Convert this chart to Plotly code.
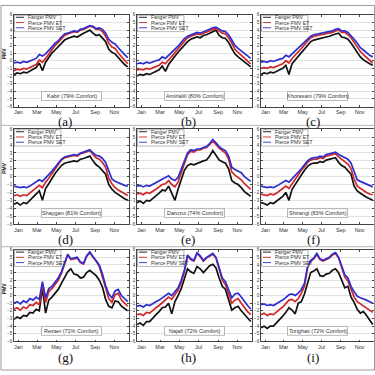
import plotly.graph_objects as go

# ---------------- data ----------------
DAYS = list(range(1, 366, 10))  # sample days of the year
MONTH_TICKS = [15, 74, 135, 196, 258, 319]
MONTH_LABELS = ["Jan", "Mar", "May", "Jul", "Sep", "Nov"]
Y_TICKS = list(range(-6, 7))
SERIES_NAMES = ["Fanger PMV", "Pierce PMV ET", "Pierce PMV SET"]
STATIONS = ["Kabir (79% Comfort)", "Amirlalili (80% Comfort)", "Khorasani (79% Comfort)",
            "Shaygan (81% Comfort)", "Darozui (74% Comfort)", "Shirangi (83% Comfort)",
            "Rezaei (71% Comfort)", "Najafi (72% Comfort)", "Torighati (72% Comfort)"]
PANEL_LABELS = ["(a)", "(b)", "(c)", "(d)", "(e)", "(f)", "(g)", "(h)", "(i)"]

FAN_A = [-1.8,-1.6,-1.7,-1.5,-1.6,-1.4,-1.1,-0.9,-0.3,-1.3,-0.2,0.4,1.0,1.4,1.8,2.3,2.7,2.9,3.0,3.2,3.1,3.4,3.6,3.8,4.0,3.6,3.3,3.4,3.0,2.5,1.5,1.1,0.9,0.4,-0.1,-0.5,-0.8]
ET_A = [-1.3,-1.1,-1.2,-1.0,-1.1,-0.9,-0.6,-0.5,0.1,-0.2,0.3,0.9,1.5,2.0,2.4,2.9,3.3,3.5,3.6,3.8,3.7,4.0,4.1,4.3,4.5,4.4,4.1,4.1,3.8,3.2,2.3,1.8,1.6,1.0,0.5,0.0,-0.4]
SET_A = [-0.3,-0.2,-0.3,-0.1,-0.2,0.0,0.2,0.3,0.8,0.6,0.9,1.3,1.8,2.3,2.6,3.1,3.5,3.6,3.7,3.9,3.8,4.1,4.2,4.4,4.6,4.5,4.2,4.3,4.1,3.6,2.8,2.4,2.2,1.7,1.2,0.8,0.4]

FAN_B = [-2.0,-1.8,-1.9,-1.7,-1.8,-1.6,-1.4,-1.2,-0.7,-1.4,-0.5,0.1,0.6,1.1,1.6,2.1,2.5,2.8,2.9,3.1,3.0,3.3,3.4,3.6,3.9,4.0,3.3,3.0,2.9,2.4,1.6,0.9,0.5,0.2,-0.2,-0.5,-0.8]
ET_B = [-1.2,-1.1,-1.2,-1.0,-1.1,-0.9,-0.7,-0.6,-0.2,-0.4,0.1,0.6,1.1,1.6,2.1,2.6,3.0,3.2,3.3,3.5,3.4,3.6,3.7,3.9,4.1,4.2,3.9,3.6,3.5,3.0,2.3,1.5,1.1,0.7,0.3,-0.1,-0.4]
SET_B = [-0.4,-0.3,-0.4,-0.2,-0.3,-0.1,0.0,0.1,0.5,0.3,0.7,1.0,1.4,1.9,2.4,2.9,3.2,3.4,3.5,3.7,3.6,3.8,3.9,4.1,4.3,4.4,4.1,3.9,3.8,3.4,2.7,2.0,1.6,1.3,0.9,0.6,0.3]

FAN_C = [-1.8,-1.6,-1.7,-1.5,-1.6,-1.4,-1.2,-1.0,-0.6,-1.8,-0.4,0.1,0.6,1.1,1.6,2.1,2.5,2.7,2.8,2.9,2.9,3.1,3.2,3.3,3.5,3.6,3.1,3.0,2.8,2.3,1.7,1.1,0.5,0.1,-0.2,-0.4,-0.6]
ET_C = [-1.0,-0.9,-1.0,-0.8,-0.9,-0.7,-0.5,-0.4,0.0,-0.3,0.3,0.7,1.2,1.6,2.1,2.6,3.0,3.2,3.3,3.4,3.4,3.5,3.6,3.7,3.9,4.0,3.7,3.7,3.4,3.0,2.4,1.8,1.2,0.8,0.4,0.0,-0.3]
SET_C = [-0.2,-0.1,-0.2,0.0,-0.1,0.1,0.2,0.3,0.7,0.5,0.9,1.2,1.6,2.0,2.4,2.9,3.2,3.4,3.5,3.6,3.6,3.7,3.8,3.9,4.1,4.2,3.9,3.9,3.7,3.3,2.8,2.3,1.7,1.4,1.0,0.7,0.5]

FAN_D = [-3.5,-3.3,-3.6,-3.3,-3.4,-3.0,-2.6,-2.3,-1.8,-3.0,-1.5,-0.9,-0.2,0.4,0.9,1.4,1.7,1.8,1.9,2.0,1.9,2.2,2.3,2.5,2.6,2.0,1.5,1.2,0.8,0.3,-1.0,-1.6,-2.0,-2.3,-2.5,-2.8,-3.0]
ET_D = [-2.4,-2.3,-2.5,-2.3,-2.4,-2.1,-1.8,-1.5,-1.1,-1.4,-0.7,-0.2,0.4,1.0,1.5,2.1,2.4,2.5,2.6,2.7,2.6,2.9,3.0,3.2,3.3,2.8,2.4,2.2,1.8,1.2,-0.2,-0.9,-1.4,-1.7,-1.9,-2.2,-2.4]
SET_D = [-1.2,-1.3,-1.4,-1.3,-1.4,-1.2,-0.9,-0.7,-0.4,-0.6,-0.2,0.2,0.7,1.2,1.7,2.2,2.5,2.6,2.7,2.8,2.7,3.0,3.1,3.3,3.4,3.0,2.7,2.6,2.3,1.8,0.6,-0.3,-0.6,-0.8,-0.9,-1.1,-1.2]

FAN_E = [-3.3,-3.1,-3.4,-3.0,-3.1,-2.8,-2.5,-2.1,-1.7,-1.8,-1.2,-2.2,-3.0,-1.6,-0.3,0.8,1.4,1.6,1.5,1.7,1.8,2.0,2.1,2.6,3.3,2.7,2.1,1.9,1.7,1.0,-0.5,-0.8,-1.0,-1.4,-1.9,-2.2,-2.5]
ET_E = [-2.2,-2.1,-2.3,-2.0,-2.1,-1.9,-1.6,-1.3,-1.0,-0.9,-0.5,-1.0,-1.3,-0.7,0.4,1.7,2.8,3.2,3.1,3.4,3.4,3.6,3.7,4.1,4.5,4.1,3.6,3.3,3.0,2.2,0.6,0.2,-0.1,-0.4,-0.9,-1.3,-1.6]
SET_E = [-1.2,-1.1,-1.3,-1.1,-1.2,-1.0,-0.8,-0.6,-0.3,-0.2,0.1,-0.3,-0.5,-0.1,0.9,2.0,3.0,3.4,3.3,3.5,3.5,3.7,3.8,4.2,4.7,4.3,3.8,3.5,3.3,2.6,1.2,0.9,0.7,0.5,0.0,-0.3,-0.6]

FAN_F = [-3.3,-3.4,-3.6,-3.3,-3.4,-3.1,-2.8,-2.5,-2.0,-3.0,-1.6,-1.0,-0.3,0.3,0.8,1.3,1.6,1.7,1.7,1.9,1.8,2.1,2.2,2.3,2.4,1.8,1.4,1.2,0.8,0.3,-1.2,-1.8,-2.1,-2.4,-2.6,-2.8,-3.0]
ET_F = [-2.2,-2.3,-2.4,-2.2,-2.3,-2.1,-1.8,-1.6,-1.2,-1.5,-0.9,-0.4,0.3,0.8,1.3,1.8,2.1,2.2,2.2,2.4,2.3,2.6,2.7,2.8,2.9,2.5,2.2,2.0,1.6,1.0,-0.3,-1.2,-1.5,-1.8,-2.0,-2.2,-2.3]
SET_F = [-1.2,-1.3,-1.4,-1.3,-1.4,-1.2,-1.0,-0.8,-0.5,-0.7,-0.3,0.1,0.6,1.0,1.5,2.0,2.3,2.4,2.4,2.6,2.5,2.8,2.9,3.0,3.1,2.8,2.6,2.5,2.2,1.7,0.5,-0.4,-0.6,-0.8,-1.0,-1.2,-1.3]

FAN_G = [-3.1,-2.8,-3.0,-2.6,-2.7,-2.2,-2.3,-1.8,-2.0,1.0,-2.3,-0.6,-0.2,0.3,0.8,1.6,2.4,3.1,3.5,2.8,2.7,2.3,2.4,3.0,3.3,2.9,2.6,2.0,1.1,-0.5,-1.4,-1.6,-0.7,-0.8,-1.4,-1.7,-2.0]
ET_G = [-1.8,-1.6,-1.9,-1.5,-1.7,-1.2,-1.3,-0.9,-1.2,1.5,-0.9,0.5,0.9,1.5,2.0,2.9,4.0,5.3,4.7,4.8,4.9,4.3,4.1,5.1,5.6,5.0,4.5,3.8,2.5,0.9,-0.4,-0.9,0.1,0.3,-0.6,-1.0,-1.4]
SET_G = [-1.0,-0.8,-1.1,-0.7,-0.9,-0.4,-0.6,-0.2,-0.5,1.8,-0.3,0.9,1.2,1.8,2.3,3.1,4.2,5.4,4.8,4.9,5.0,4.4,4.2,5.2,5.7,5.1,4.6,4.0,2.8,1.3,0.2,-0.3,0.6,0.8,0.0,-0.4,-0.8]

FAN_H = [-3.8,-3.6,-3.9,-3.4,-3.4,-2.9,-2.5,-2.1,-1.6,-1.5,-1.0,-2.4,-0.8,0.0,0.9,2.2,3.5,3.1,2.9,3.8,3.5,3.0,3.4,3.9,4.1,3.6,2.3,1.2,0.8,-0.6,-1.9,-1.6,-1.4,-2.0,-2.5,-3.0,-3.4]
ET_H = [-2.5,-2.4,-2.6,-2.2,-2.3,-1.9,-1.6,-1.3,-0.9,-0.6,-0.2,-0.5,0.1,0.7,1.7,3.1,5.2,4.7,4.5,5.5,5.1,4.5,4.9,5.2,5.4,4.9,3.4,2.0,1.4,0.1,-1.0,-0.6,-0.4,-1.0,-1.6,-2.1,-2.5]
SET_H = [-1.4,-1.3,-1.5,-1.2,-1.3,-1.0,-0.8,-0.6,-0.3,-0.1,0.3,0.0,0.5,1.0,2.0,3.3,5.3,4.8,4.6,5.6,5.2,4.6,5.0,5.3,5.5,5.0,3.6,2.3,1.8,0.6,-0.3,0.2,0.3,-0.2,-0.8,-1.3,-1.8]

FAN_I = [-4.2,-4.0,-4.3,-4.0,-4.0,-3.6,-3.1,-2.7,-2.2,-1.6,-1.9,-2.4,-1.0,-0.8,0.2,1.6,3.0,3.2,3.5,2.6,2.5,2.8,2.9,3.3,3.5,3.0,2.0,1.0,1.2,-0.2,-0.9,-1.8,-2.3,-2.1,-2.6,-3.2,-3.8]
ET_I = [-2.5,-2.3,-2.6,-2.4,-2.5,-2.1,-1.8,-1.5,-1.1,-0.6,-0.5,-0.8,-0.4,0.3,1.2,3.6,4.5,4.8,5.4,4.7,4.5,4.7,4.9,5.3,5.5,4.9,3.6,2.4,1.9,0.7,-0.2,-0.8,-1.1,-1.3,-1.6,-1.9,-2.2]
SET_I = [-1.2,-1.1,-1.3,-1.2,-1.3,-1.0,-0.8,-0.6,-0.3,0.1,0.2,0.0,0.3,0.8,1.6,3.8,4.6,4.9,5.5,4.8,4.6,4.8,5.0,5.4,5.6,5.0,3.8,2.7,2.3,1.2,0.5,-0.1,-0.3,-0.4,-0.6,-0.8,-1.0]

PANELS = [(FAN_A, ET_A, SET_A), (FAN_B, ET_B, SET_B), (FAN_C, ET_C, SET_C),
          (FAN_D, ET_D, SET_D), (FAN_E, ET_E, SET_E), (FAN_F, ET_F, SET_F),
          (FAN_G, ET_G, SET_G), (FAN_H, ET_H, SET_H), (FAN_I, ET_I, SET_I)]

# ---------------- layout ----------------
W = H = 375
COLS = [(14, 129), (137, 252), (261, 374)]
ROWS = [(13, 106), (129, 225), (251, 344)]
LABEL_X = [65, 188, 313]
LABEL_Y = [121.5, 240.5, 360.5]
COLORS = ["#111111", "#d02828", "#2e2ed0"]
FONT = "Liberation Sans"


def px(x):
    return x / W


def py(y):
    return 1 - y / H


fig = go.Figure()
shapes = []
annotations = []
layout_axes = {}

for i, series in enumerate(PANELS):
    r, c = divmod(i, 3)
    suf = "" if i == 0 else str(i + 1)
    for name, vals, col in zip(SERIES_NAMES, series, COLORS):
        fig.add_trace(go.Scatter(x=DAYS, y=vals, mode="lines", name=name,
                                 line=dict(color=col, width=1.7),
                                 xaxis="x" + suf, yaxis="y" + suf, showlegend=False))
    L, R = COLS[c]
    T, B = ROWS[r]
    layout_axes["xaxis" + suf] = dict(
        domain=[px(L), px(R)], anchor="y" + suf, range=[1, 365],
        tickvals=MONTH_TICKS, ticktext=MONTH_LABELS, showgrid=False,
        showline=True, mirror="ticks", linecolor="#444", linewidth=0.8,
        ticks="inside", ticklen=2, tickcolor="#444", zeroline=False,
        tickfont=dict(size=5.5, color="#333", family=FONT))
    layout_axes["yaxis" + suf] = dict(
        domain=[py(B), py(T)], anchor="x" + suf, range=[-6, 6],
        tickvals=Y_TICKS, showgrid=True, gridcolor="#e2e2e2", gridwidth=0.6,
        showline=True, mirror="ticks", linecolor="#444", linewidth=0.8,
        ticks="inside", ticklen=2, tickcolor="#444", zeroline=False,
        tickfont=dict(size=4.5, color="#333", family=FONT))

    # legend box (drawn manually)
    shapes.append(dict(type="rect", xref="paper", yref="paper",
                       x0=px(L + 0.5), x1=px(L + 47), y0=py(T + 17), y1=py(T + 0.5),
                       line=dict(color="#888", width=0.6), fillcolor="white"))
    for k, (name, col) in enumerate(zip(SERIES_NAMES, COLORS)):
        yy = T + 2.5 + 5.3 * k
        shapes.append(dict(type="line", xref="paper", yref="paper",
                           x0=px(L + 2), x1=px(L + 10), y0=py(yy), y1=py(yy),
                           line=dict(color=col, width=0.9)))
        annotations.append(dict(text=name, xref="paper", yref="paper",
                                x=px(L + 12), y=py(yy), xanchor="left", yanchor="middle",
                                showarrow=False, font=dict(size=5, color="#333", family=FONT)))

    # station box
    cx = (L + R) / 2
    cy = T + 0.885 * (B - T)
    shapes.append(dict(type="rect", xref="paper", yref="paper",
                       x0=px(cx - 30), x1=px(cx + 30), y0=py(cy + 4.5), y1=py(cy - 4.5),
                       line=dict(color="#888", width=0.6), fillcolor="white"))
    annotations.append(dict(text=STATIONS[i], xref="paper", yref="paper",
                            x=px(cx), y=py(cy), xanchor="center", yanchor="middle",
                            showarrow=False, font=dict(size=5.5, color="#333", family=FONT)))

    # panel label
    annotations.append(dict(text=PANEL_LABELS[i], xref="paper", yref="paper",
                            x=px(LABEL_X[c]), y=py(LABEL_Y[r]), xanchor="center", yanchor="middle",
                            showarrow=False, font=dict(size=13, color="#111", family="Liberation Serif")))

    if c == 0:
        annotations.append(dict(text="<b>PMV</b>", xref="paper", yref="paper",
                                x=px(4), y=py(T + 39), xanchor="center", yanchor="middle",
                                textangle=-90, showarrow=False,
                                font=dict(size=5, color="#222", family=FONT)))

# frame and row separators
shapes.append(dict(type="rect", xref="paper", yref="paper", x0=px(1), x1=px(374.5),
                   y0=py(373), y1=py(3.5), line=dict(color="#9a9a9a", width=1)))
for yy in (125, 248):
    shapes.append(dict(type="line", xref="paper", yref="paper", x0=px(1), x1=px(374.5),
                       y0=py(yy), y1=py(yy), line=dict(color="#b5b5b5", width=1)))

fig.update_layout(width=W, height=H, autosize=False,
                  margin=dict(l=0, r=0, t=0, b=0),
                  paper_bgcolor="white", plot_bgcolor="white",
                  shapes=shapes, annotations=annotations, showlegend=False,
                  **layout_axes)

fig.write_html("out.html", config={"displayModeBar": False},
               post_script="document.body.style.margin='0px';")
